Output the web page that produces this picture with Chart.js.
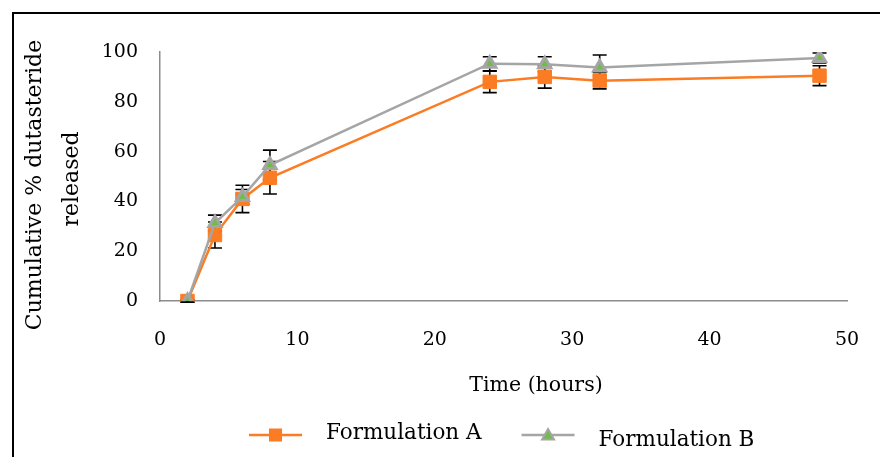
<!DOCTYPE html>
<html>
<head>
<meta charset="utf-8">
<script src="https://cdn.jsdelivr.net/npm/chart.js@4.4.1/dist/chart.umd.min.js"></script>
<style>
  html, body { margin: 0; padding: 0; background: #fff; }
  #wrap { position: relative; width: 880px; height: 457px; overflow: hidden; }
  #frame { position: absolute; left: 12px; top: 12px; width: 900px; height: 500px;
           border-left: 2px solid #000; border-top: 2px solid #000; }
  canvas { position: absolute; left: 0; top: 0; }
</style>
</head>
<body>
<div id="wrap">
  <div id="frame"></div>
  <canvas id="chart" width="880" height="457"></canvas>
</div>
<script>
const hours = [2, 4, 6, 8, 24, 28, 32, 48];
const formulationA = [0, 26.5, 41, 49.5, 88, 90, 88.5, 90.5];
const errorA = [0.5, 5.2, 5.5, 6.5, 4.3, 4.5, 3.3, 4];
const formulationB = [0, 31.3, 41.8, 54.6, 95.3, 95.1, 93.8, 97.6];
const errorB = [0.5, 3.2, 3, 6, 2.8, 3, 5, 2];
const seriesLabels = ["Formulation A", "Formulation B"];
const xTicks = [0, 10, 20, 30, 40, 50];
const yTicks = [0, 20, 40, 60, 80, 100];
const xTitle = "Time (hours)";
const yTitle = ["Cumulative % dutasteride", "released"];

const orange = "#FB7C22";
const grey = "#A5A5A5";
const green = "#6DBE45";
const axisGrey = "#8C8C8C";
const serif = "'DejaVu Serif', serif";

function points(xs, ys) {
  return xs.map((x, i) => ({ x: x, y: ys[i] }));
}

// vertical error bars with caps, drawn under the markers
const errorBars = {
  id: "errorBars",
  beforeDatasetsDraw(chart) {
    const ctx = chart.ctx;
    const xs = chart.scales.x;
    const ys = chart.scales.y;
    ctx.save();
    ctx.strokeStyle = "#000";
    ctx.lineWidth = 1.6;
    chart.data.datasets.forEach((ds) => {
      ds.data.forEach((p, i) => {
        const e = ds.errors[i];
        const px = xs.getPixelForValue(p.x);
        const top = ys.getPixelForValue(p.y + e);
        const bot = ys.getPixelForValue(p.y - e);
        ctx.beginPath();
        ctx.moveTo(px, top); ctx.lineTo(px, bot);
        ctx.moveTo(px - 7, top); ctx.lineTo(px + 7, top);
        ctx.moveTo(px - 7, bot); ctx.lineTo(px + 7, bot);
        ctx.stroke();
      });
    });
    ctx.restore();
  }
};

// axis titles sit a little off-centre in the original, so place them by hand
const axisTitles = {
  id: "axisTitles",
  afterDraw(chart, args, opts) {
    const ctx = chart.ctx;
    ctx.save();
    ctx.fillStyle = "#000";
    ctx.textAlign = "center";
    ctx.textBaseline = "middle";
    ctx.font = opts.xFont;
    ctx.fillText(xTitle, opts.xAt[0], opts.xAt[1]);
    ctx.font = opts.yFont;
    yTitle.forEach((line, i) => {
      const pos = opts.yAt[i];
      ctx.save();
      ctx.translate(pos[0], pos[1]);
      ctx.rotate(-Math.PI / 2);
      ctx.fillText(line, 0, 0);
      ctx.restore();
    });
    ctx.restore();
  }
};

// legend as a short line with the marker on it, then the label
const lineLegend = {
  id: "lineLegend",
  afterDraw(chart, args, opts) {
    const ctx = chart.ctx;
    let x = opts.left;
    const y = opts.y;
    ctx.save();
    ctx.font = opts.font;
    ctx.textBaseline = "middle";
    chart.data.datasets.forEach((ds, i) => {
      const mid = x + opts.lineLength / 2;
      ctx.strokeStyle = ds.borderColor;
      ctx.lineWidth = ds.borderWidth;
      ctx.beginPath();
      ctx.moveTo(x, y);
      ctx.lineTo(x + opts.lineLength, y);
      ctx.stroke();
      ctx.fillStyle = ds.pointBackgroundColor;
      ctx.strokeStyle = ds.pointBorderColor;
      ctx.lineWidth = 2;
      ctx.beginPath();
      if (ds.pointStyle === "rect") {
        ctx.rect(mid - 5.5, y - 5.5, 11, 11);
      } else {
        ctx.moveTo(mid, y - 6);
        ctx.lineTo(mid + 6, y + 4.5);
        ctx.lineTo(mid - 6, y + 4.5);
        ctx.closePath();
      }
      ctx.fill();
      ctx.stroke();
      ctx.fillStyle = "#000";
      const tx = x + opts.lineLength + opts.gap;
      ctx.fillText(ds.label, tx, y + opts.textShift[i]);
      x = tx + ctx.measureText(ds.label).width + opts.spacing;
    });
    ctx.restore();
  }
};

new Chart(document.getElementById("chart"), {
  type: "line",
  data: {
    datasets: [
      {
        label: seriesLabels[0],
        data: points(hours, formulationA),
        errors: errorA,
        borderColor: orange,
        backgroundColor: orange,
        borderWidth: 2.5,
        pointStyle: "rect",
        pointRadius: 9.5,
        pointBackgroundColor: orange,
        pointBorderColor: orange,
        pointBorderWidth: 1,
        order: 1
      },
      {
        label: seriesLabels[1],
        data: points(hours, formulationB),
        errors: errorB,
        borderColor: grey,
        backgroundColor: green,
        borderWidth: 2.5,
        pointStyle: "triangle",
        pointRadius: 7,
        pointBackgroundColor: green,
        pointBorderColor: grey,
        pointBorderWidth: 3,
        order: 0
      }
    ]
  },
  options: {
    responsive: false,
    animation: false,
    layout: { padding: { left: 0, right: 33, top: 52, bottom: 46 } },
    plugins: {
      legend: { display: false },
      tooltip: { enabled: false },
      lineLegend: { left: 249, y: 435, lineLength: 53, gap: 24, spacing: 40,
                    textShift: [-2, 5], font: "21.5px " + serif },
      axisTitles: { xAt: [536, 386], yAt: [[35, 185], [72, 179]],
                    xFont: "20.5px " + serif, yFont: "22px " + serif }
    },
    scales: {
      x: {
        type: "linear",
        min: 0,
        max: 50,
        afterBuildTicks: (s) => { s.ticks = xTicks.map((v) => ({ value: v })); },
        afterFit: (s) => { s.height = 110; s.paddingRight = 0; s.paddingLeft = 0; },
        grid: { display: false, drawTicks: false },
        border: { display: true, color: axisGrey, width: 1.5 },
        ticks: { color: "#000", padding: 28, font: { family: serif, size: 19 } },
        title: { display: false }
      },
      y: {
        min: 0,
        max: 100,
        afterBuildTicks: (s) => { s.ticks = yTicks.map((v) => ({ value: v })); },
        afterFit: (s) => { s.width = 160; },
        grid: { display: false, drawTicks: false },
        border: { display: true, color: axisGrey, width: 1.5 },
        ticks: { color: "#000", padding: 22, font: { family: serif, size: 19 } },
        title: { display: false }
      }
    }
  },
  plugins: [errorBars, axisTitles, lineLegend]
});
</script>
</body>
</html>
